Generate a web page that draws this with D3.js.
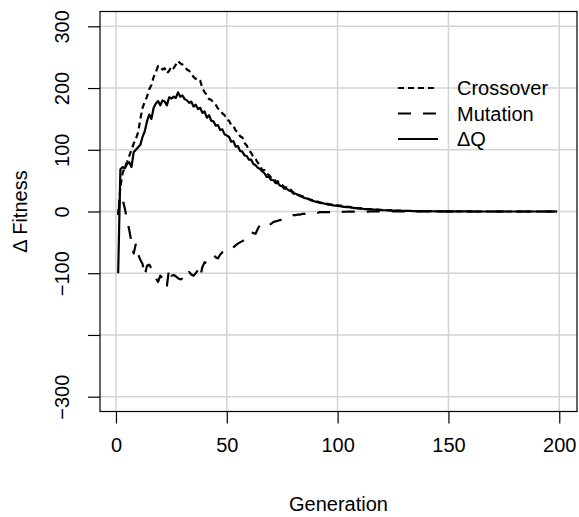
<!DOCTYPE html>
<html>
<head>
<meta charset="utf-8">
<script src="https://cdn.jsdelivr.net/npm/d3@7"></script>
<style>
  body { margin: 0; background: #fff; }
  text { font-family: "Liberation Sans", Arial, sans-serif; fill: #000; }
</style>
</head>
<body>
<div id="chart"></div>
<script>
// values, generation 1..199
const crossover = [
  -6, 40, 62, 72, 80, 90, 100, 110, 118, 128,
  150, 168, 178, 186, 198, 205, 218, 226, 236, 234,
  230, 232, 224, 228, 235, 232, 238, 244, 240, 238,
  235, 230, 228, 224, 218, 215, 216, 212, 200, 193,
  189, 182, 181, 176, 173, 167, 165, 159, 156, 149,
  147, 140, 139, 131, 129, 122, 120, 111, 107, 99,
  95, 88, 85, 79, 75, 67, 67, 61, 59, 55,
  55, 49, 49, 44, 43, 39, 39, 35, 35, 31,
  30, 28, 26, 25, 23, 22, 20, 19, 18, 17,
  16, 15, 14, 13.5, 13, 12, 11.5, 11, 10.5, 10,
  9.5, 9, 8.5, 8, 7.5, 7, 6.5, 6, 5.5, 5.2,
  5, 4.6, 4.2, 4, 3.7, 3.4, 3.2, 3, 2.8, 2.5,
  2.3, 2.1, 2, 1.8, 1.7, 1.5, 1.4, 1.3, 1.2, 1.1,
  1, 0.9, 0.9, 0.8, 0.8, 0.7, 0.7, 0.6, 0.6, 0.5,
  0.5, 0.5, 0.4, 0.4, 0.4, 0.3, 0.3, 0.3, 0.3, 0.2,
  0.2, 0.2, 0.2, 0.1, 0.1, 0.1, 0.1, 0.1, 0.1, 0.1,
  0, 0, 0, 0, 0, 0, 0, 0, 0, 0,
  0, 0, 0, 0, 0, 0, 0, 0, 0, 0,
  0, 0, 0, 0, 0, 0, 0, 0, 0, 0,
  0, 0, 0, 0, 0, 0, 0, 0, 0
];
const mutation = [
  -5, 25, 20, 5, -14, -30, -50, -68, -52, -70,
  -78, -85, -104, -88, -86, -92, -100, -108, -114, -104,
  -108, -106, -120, -92, -104, -103, -105, -108, -110, -109,
  -112, -105, -98, -102, -104, -100, -95, -106, -90, -82,
  -84, -79, -74, -71, -74, -76, -70, -66, -65, -64,
  -62, -63, -58, -55, -52, -50, -48, -46, -40, -36,
  -33, -35, -36, -28, -22, -24, -26, -23, -22, -20,
  -17, -16, -15, -14, -13, -12, -11, -10, -8, -6,
  -6, -5, -5, -4, -4, -3, -3, -3, -2, -1,
  -2, -1, -1, -1, -1, -1, -1, 0, -1, 0,
  -0.5, -0.5, -0.4, -0.4, -0.3, -0.3, -0.3, -0.2, -0.2, -0.2,
  -0.1, -0.1, -0.1, -0.1, 0, 0, 0, 0, 0, 0,
  0, 0, 0, 0, 0, 0, 0, 0, 0, 0,
  0, 0, 0, 0, 0, 0, 0, 0, 0, 0,
  0, 0, 0, 0, 0, 0, 0, 0, 0, 0,
  0, 0, 0, 0, 0, 0, 0, 0, 0, 0,
  0, 0, 0, 0, 0, 0, 0, 0, 0, 0,
  0, 0, 0, 0, 0, 0, 0, 0, 0, 0,
  0, 0, 0, 0, 0, 0, 0, 0, 0, 0,
  0, 0, 0, 0, 0, 0, 0, 0, 0
];
const deltaQ = [
  -100, 68, 72, 70, 77, 80, 72, 96, 100, 104,
  108, 121, 130, 146, 157, 150, 168, 175, 179, 172,
  180, 178, 172, 185, 183, 186, 184, 193, 186, 188,
  182, 180, 176, 178, 170, 173, 166, 168, 160, 162,
  152, 156, 147, 146, 139, 140, 132, 133, 125, 123,
  121, 113, 114, 105, 106, 98, 97, 91, 90, 84,
  84, 77, 75, 71, 69, 65, 62, 56, 56, 51,
  51, 46, 46, 42, 41, 37, 37, 34, 33, 29,
  29, 27, 25, 24, 22, 21, 20, 18, 17, 16,
  15, 14, 13.5, 13, 12, 11, 10.5, 10, 9.5, 9,
  8.5, 8, 7.5, 7, 7, 6.5, 6, 5.5, 5, 5,
  4.5, 4, 4, 3.5, 3.5, 3, 3, 2.8, 2.5, 2.3,
  2, 2, 1.8, 1.6, 1.5, 1.4, 1.2, 1.1, 1, 1,
  0.9, 0.8, 0.8, 0.7, 0.7, 0.6, 0.6, 0.5, 0.5, 0.5,
  0.4, 0.4, 0.4, 0.3, 0.3, 0.3, 0.3, 0.2, 0.2, 0.2,
  0.2, 0.2, 0.1, 0.1, 0.1, 0.1, 0.1, 0.1, 0.1, 0.1,
  0, 0, 0, 0, 0, 0, 0, 0, 0, 0,
  0, 0, 0, 0, 0, 0, 0, 0, 0, 0,
  0, 0, 0, 0, 0, 0, 0, 0, 0, 0,
  0, 0, 0, 0, 0, 0, 0, 0, 0
];
const xTicks = [0, 50, 100, 150, 200];
const yTicks = [-300, -200, -100, 0, 100, 200, 300];
const yTickLabels = ["\u2212300", "", "\u2212100", "0", "100", "200", "300"];
const seriesNames = ["Crossover", "Mutation", "\u0394Q"];

function drawChart() {
    const W = 579, H = 517;
    const svg = d3.select("#chart").append("svg")
        .attr("width", W).attr("height", H);

    // plot region (R style 4% padding on both axes)
    let x = d3.scaleLinear().domain([-7.2, 208]).range([100, 577]);
    let y = d3.scaleLinear().domain([-324, 324]).range([411.5, 11.5]);
    const [x0, x1] = x.range();
    const [y0, y1] = y.range();

    // grid
    svg.append("g").selectAll("line")
        .data(xTicks).enter().append("line")
        .attr("x1", d => x(d)).attr("x2", d => x(d))
        .attr("y1", y1).attr("y2", y0)
        .attr("stroke", "#d3d3d3").attr("stroke-width", 1.5);
    svg.append("g").selectAll("line")
        .data(yTicks).enter().append("line")
        .attr("x1", x0).attr("x2", x1)
        .attr("y1", d => y(d)).attr("y2", d => y(d))
        .attr("stroke", "#d3d3d3").attr("stroke-width", 1.5);

    // series
    const series = [
        {name: seriesNames[0], values: crossover, dash: "6,4"},
        {name: seriesNames[1], values: mutation, dash: "13,12"},
        {name: seriesNames[2], values: deltaQ, dash: null}
    ];
    let line = d3.line()
        .x((d, i) => x(i + 1))
        .y(d => y(d));
    svg.append("g").selectAll("path")
        .data(series).enter().append("path")
        .attr("d", d => line(d.values))
        .attr("fill", "none")
        .attr("stroke", "#000")
        .attr("stroke-width", 2.2)
        .attr("stroke-linejoin", "round")
        .attr("stroke-dasharray", d => d.dash);

    // box
    svg.append("rect")
        .attr("x", x0).attr("y", y1)
        .attr("width", x1 - x0).attr("height", y0 - y1)
        .attr("fill", "none").attr("stroke", "#000").attr("stroke-width", 1.2);

    // x axis
    let xAxis = svg.append("g")
        .attr("transform", "translate(0," + y0 + ")")
        .call(d3.axisBottom(x).tickValues(xTicks).tickSize(12).tickPadding(14));
    xAxis.select(".domain").remove();
    xAxis.selectAll("line").attr("stroke-width", 1.2);
    xAxis.selectAll("text")
        .style("font-family", "Liberation Sans, Arial, sans-serif")
        .style("font-size", "20px");

    // y axis, labels rotated like R's default las=0
    let yAxis = svg.append("g")
        .attr("transform", "translate(" + x0 + ",0)")
        .call(d3.axisLeft(y).tickValues(yTicks).tickSize(12).tickFormat((d, i) => yTickLabels[i]));
    yAxis.select(".domain").remove();
    yAxis.selectAll("line").attr("stroke-width", 1.2);
    yAxis.selectAll("text")
        .attr("x", null).attr("dy", null)
        .attr("text-anchor", "middle")
        .attr("transform", "translate(-31,0) rotate(-90)")
        .style("font-family", "Liberation Sans, Arial, sans-serif")
        .style("font-size", "20px");

    // axis titles
    svg.append("text")
        .attr("x", (x0 + x1) / 2).attr("y", 511)
        .attr("text-anchor", "middle")
        .style("font-size", "20px")
        .text("Generation");
    svg.append("text")
        .attr("transform", "translate(27," + y(0) + ") rotate(-90)")
        .attr("text-anchor", "middle")
        .style("font-size", "20px")
        .text("\u0394 Fitness");

    // legend
    let legend = svg.append("g").selectAll("g")
        .data(series).enter().append("g")
        .attr("transform", (d, i) => "translate(398," + (88 + i * 25.5) + ")");
    legend.append("line")
        .attr("x1", 0).attr("x2", 40)
        .attr("stroke", "#000").attr("stroke-width", 2.2)
        .attr("stroke-dasharray", d => d.dash);
    legend.append("text")
        .attr("x", 59).attr("y", 7)
        .style("font-size", "20px")
        .text(d => d.name);
}
drawChart();
</script>
</body>
</html>
